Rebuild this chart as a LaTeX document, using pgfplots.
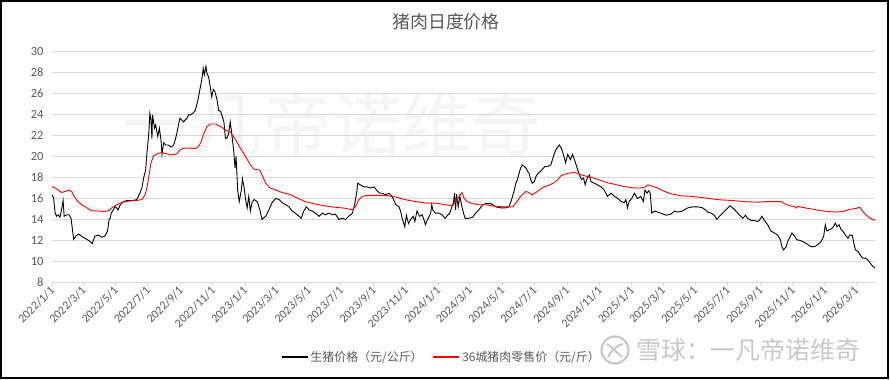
\documentclass[border=0pt]{standalone}
\usepackage{fontspec}
\setmainfont{Noto Sans CJK SC}
\newfontfamily\carlito{Carlito}
\usepackage{pgfplots}
\pgfplotsset{compat=1.18}
\definecolor{txtgray}{HTML}{595959}
\definecolor{gridgray}{HTML}{D9D9D9}
\definecolor{wm}{HTML}{F5F5F5}
\definecolor{wm2}{HTML}{C8C8C8}
\definecolor{pred}{HTML}{FF0000}
\begin{document}
\begin{tikzpicture}[x=1bp,y=1bp]
\useasboundingbox (0,0) rectangle (890,379);
\fill[white] (0,0) rectangle (890,379);
\node[text=wm, font=\fontsize{70}{70}\selectfont, inner sep=0] at (332,255) {一凡帝诺维奇};
\begin{axis}[
  at={(52bp,96.7bp)}, anchor=south west,
  scale only axis, width=823bp, height=230.6bp,
  xmin=0, xmax=1556, ymin=8, ymax=30,
  axis x line=bottom, axis y line=left,
  axis line style={-},
  x axis line style={draw=gridgray},
  y axis line style={draw=none},
  ytick={8,10,...,30},
  ymajorgrids, grid style={draw=gridgray, line width=0.8bp},
  tick align=outside,
  major tick length=4bp,
  xtick style={draw=gridgray, line width=0.8bp},
  ytick style={draw=none},
  xtick={0,59,120,181,243,304,365,424,485,546,608,669,730,790,851,912,974,1035,1096,1155,1216,1277,1339,1400,1461,1520},
  xticklabels={2022/1/1,2022/3/1,2022/5/1,2022/7/1,2022/9/1,2022/11/1,2023/1/1,2023/3/1,2023/5/1,2023/7/1,2023/9/1,2023/11/1,2024/1/1,2024/3/1,2024/5/1,2024/7/1,2024/9/1,2024/11/1,2025/1/1,2025/3/1,2025/5/1,2025/7/1,2025/9/1,2025/11/1,2026/1/1,2026/3/1},
  /pgf/number format/assume math mode=true,
  xticklabel style={font=\carlito\fontsize{12}{12}\selectfont, text=txtgray, rotate=45, anchor=east, xshift=2bp, yshift=-2bp},
  yticklabel style={font=\carlito\fontsize{12.5}{12.5}\selectfont, text=txtgray, xshift=-1bp},
  legend columns=2,
  legend style={at={(0.473,-0.324)}, anchor=center, draw=none, fill=none,
    font=\fontsize{12}{12}\selectfont, text=txtgray,
    /tikz/every even column/.append style={column sep=8bp}},
  legend image code/.code={\draw[#1, line width=1.6bp] (0bp,0bp) -- (26bp,0bp);},
]
\addplot[black, line width=0.9bp] coordinates {
(0,16.35)(3,16.03)(6,14.6)(9,14.3)(12,14.44)(15,14.2)(18,14.9)(21,15.8)(23,14.3)(28,14.44)
(32,14.44)(36,14.1)(38,13.3)(41,12.1)(45,12.4)(50,12.6)(56,12.4)(62,12.2)(69,12.0)(76,11.7)
(81,12.4)(88,12.5)(94,12.3)(100,12.4)(105,12.9)(108,14.0)(110,14.1)(112,14.6)(116,14.9)(119,15.2)
(122,15.1)(125,14.9)(129,15.4)(135,15.7)(141,15.8)(151,15.8)(160,15.87)(166,16.5)(170,17.0)(173,17.9)
(177,18.7)(180,20.6)(183,22.2)(185,24.1)(187,23.5)(189,21.7)(190,23.97)(194,22.7)(196,23.0)(200,21.9)
(203,22.7)(206,21.6)(208,20.2)(211,21.3)(215,21.1)(220,21.1)(225,20.9)(230,21.1)(233,21.6)(236,22.2)
(239,23.0)(242,23.65)(245,23.5)(249,23.3)(252,23.5)(255,23.65)(258,23.97)(261,23.97)(266,24.1)(271,24.4)
(276,25.4)(280,26.5)(283,27.3)(286,28.4)(288,27.8)(291,28.6)(293,27.9)(296,27.6)(299,26.7)(302,25.7)
(305,26.4)(308,26.2)(312,25.4)(315,24.4)(319,24.3)(322,23.8)(325,23.3)(328,21.7)(331,21.8)(334,22.2)
(337,23.3)(341,21.7)(344,20.3)(346,18.9)(348,20.0)(351,16.8)(354,15.7)(358,16.8)(360,17.9)(363,17.1)
(366,15.9)(369,15.1)(372,16.2)(375,14.8)(378,15.6)(382,15.9)(388,15.7)(393,14.9)(397,14.0)(404,14.3)
(410,14.9)(416,15.6)(423,16.0)(429,15.9)(435,15.6)(442,15.4)(448,15.2)(454,14.8)(460,14.6)(467,14.3)
(471,14.1)(476,14.8)(481,15.2)(486,14.9)(492,14.8)(498,14.6)(505,14.3)(511,14.6)(517,14.44)(524,14.6)
(530,14.44)(536,14.5)(542,14.0)(549,14.1)(555,14.0)(561,14.3)(568,14.6)(572,15.4)(576,16.5)(578,17.46)
(583,17.3)(590,17.1)(596,17.1)(602,17.0)(609,17.1)(615,16.7)(620,16.5)(624,16.5)(631,16.35)(637,16.5)
(643,16.2)(650,15.4)(656,15.2)(659,14.8)(662,14.1)(667,13.3)(670,14.4)(674,13.6)(678,14.0)(683,14.3)
(686,13.8)(690,14.8)(695,14.3)(700,14.44)(703,14.0)(706,13.5)(710,14.0)(713,14.3)(716,14.6)(718,15.4)
(720,14.9)(725,14.6)(732,14.6)(738,14.4)(743,14.1)(748,14.4)(752,14.6)(756,15.2)(759,15.6)(761,16.5)
(763,14.9)(765,16.4)(768,15.2)(771,16.2)(775,15.2)(778,14.6)(781,14.1)(787,14.1)(795,14.2)(801,14.6)
(807,14.9)(814,15.4)(820,15.5)(830,15.5)(839,15.2)(848,15.1)(858,15.1)(864,15.2)(869,15.9)(874,16.8)
(877,17.46)(880,17.8)(883,18.4)(886,18.9)(889,19.2)(893,19.05)(896,18.9)(899,18.6)(902,18.4)(905,17.8)
(908,17.46)(912,17.6)(915,18.1)(919,18.4)(924,18.6)(929,18.9)(932,19.05)(937,19.05)(943,19.2)(948,20.0)
(952,20.6)(959,21.1)(963,20.8)(968,20.0)(971,19.4)(975,20.2)(980,19.7)(984,20.2)(987,19.8)(992,19.05)
(997,18.25)(1001,17.8)(1005,17.94)(1008,17.3)(1012,17.94)(1016,18.25)(1019,17.6)(1025,17.46)(1031,17.3)(1038,17.1)
(1044,16.8)(1050,16.2)(1057,16.5)(1063,16.2)(1069,16.03)(1076,15.7)(1082,15.6)(1085,15.9)(1088,15.1)(1091,15.7)
(1096,16.0)(1101,16.5)(1107,16.0)(1113,16.2)(1118,15.7)(1121,16.8)(1125,16.5)(1128,16.75)(1131,16.5)(1134,14.6)
(1139,14.8)(1145,14.7)(1151,14.6)(1161,14.4)(1170,14.5)(1177,14.8)(1183,14.7)(1192,14.8)(1202,15.1)(1211,15.2)
(1221,15.2)(1230,15.1)(1236,14.9)(1240,14.7)(1246,14.6)(1252,14.4)(1257,14.0)(1262,14.3)(1268,14.6)(1274,14.9)
(1282,15.3)(1287,15.1)(1293,14.8)(1300,14.4)(1306,14.1)(1311,14.4)(1315,14.1)(1322,13.9)(1328,13.9)(1334,13.8)
(1337,13.9)(1342,14.3)(1347,13.9)(1353,13.5)(1359,12.9)(1366,12.7)(1372,12.5)(1377,12.06)(1380,11.4)(1383,11.1)
(1388,11.4)(1391,11.9)(1394,12.2)(1399,12.7)(1404,12.4)(1408,12.06)(1414,12.0)(1423,11.8)(1429,11.6)(1435,11.4)
(1442,11.4)(1448,11.6)(1454,11.9)(1459,12.4)(1462,13.5)(1465,12.9)(1470,13.0)(1476,13.2)(1481,13.65)(1484,13.3)
(1488,13.5)(1492,13.0)(1495,12.9)(1500,12.5)(1505,12.2)(1508,12.5)(1513,12.5)(1516,11.7)(1519,11.1)(1524,10.95)
(1528,10.6)(1533,10.3)(1538,10.3)(1542,10.16)(1547,9.84)(1552,9.5)(1556,9.37)
};
\addlegendentry{生猪价格（元/公斤）}
\addplot[pred, line width=0.9bp] coordinates {
(0,17.14)(6,17.0)(12,16.8)(18,16.57)(25,16.67)(32,16.8)(37,16.67)(42,16.2)(49,15.7)(56,15.4)
(66,15.1)(75,14.83)(88,14.8)(100,14.76)(107,14.85)(113,15.1)(119,15.3)(129,15.56)(138,15.7)(151,15.78)
(160,15.8)(170,15.9)(176,16.35)(180,17.14)(184,18.4)(187,19.37)(192,20.06)(201,20.3)(208,20.38)(217,20.25)
(226,20.16)(236,20.25)(242,20.63)(249,20.8)(258,20.8)(271,20.76)(277,20.95)(282,21.4)(286,22.06)(293,22.86)
(299,23.1)(309,23.1)(319,22.86)(328,22.54)(338,22.3)(347,21.6)(356,20.8)(366,20.0)(375,19.2)(382,18.8)
(393,18.7)(397,18.25)(404,17.46)(412,17.0)(423,16.8)(435,16.57)(451,16.35)(464,16.03)(479,15.7)(495,15.5)
(514,15.3)(533,15.17)(552,15.08)(568,14.92)(574,15.24)(580,15.87)(587,16.2)(596,16.3)(609,16.3)(631,16.29)
(650,16.13)(669,15.87)(688,15.7)(707,15.56)(726,15.56)(744,15.4)(757,15.3)(763,15.7)(770,16.2)(775,16.57)
(779,16.03)(785,15.7)(795,15.5)(808,15.4)(820,15.4)(839,15.24)(858,15.2)(871,15.2)(877,15.56)(886,16.2)
(896,16.67)(901,16.57)(908,16.35)(915,16.57)(924,16.9)(932,17.14)(937,17.2)(949,17.5)(956,17.78)(962,18.16)
(975,18.4)(987,18.48)(994,18.4)(1000,18.25)(1012,18.1)(1025,17.94)(1038,17.7)(1050,17.5)(1063,17.36)(1076,17.2)
(1088,17.08)(1101,17.0)(1113,17.0)(1121,17.08)(1127,17.3)(1136,17.14)(1145,17.0)(1158,16.67)(1170,16.45)(1189,16.25)
(1208,16.2)(1227,16.1)(1236,16.03)(1262,15.87)(1287,15.8)(1312,15.68)(1337,15.65)(1350,15.7)(1378,15.7)(1385,15.5)
(1394,15.3)(1404,15.24)(1407,15.08)(1410,15.24)(1426,15.08)(1445,14.92)(1464,14.76)(1483,14.7)(1495,14.76)(1508,14.95)
(1520,15.05)(1527,15.17)(1533,14.76)(1539,14.44)(1546,14.13)(1556,13.9)
};
\addlegendentry{36城猪肉零售价（元/斤）}
\end{axis}
\node[text=txtgray, font=\fontsize{18}{18}\selectfont, inner sep=0] at (446,357) {猪肉日度价格};
\draw[wm2, line width=2.2bp] (615,29) circle (13.5);
\draw[wm2, line width=2bp] (608,22) .. controls (612,30) and (618,34) .. (623,35);
\draw[wm2, line width=2bp] (607,35) .. controls (612,32) and (617,26) .. (622,22);
\node[text=wm2, font=\fontsize{25}{25}\selectfont, inner sep=0, anchor=west] at (636,29) {雪球：一凡帝诺维奇};
\draw[black, line width=1.8bp] (0.9,0.9) rectangle (888,378.1);
\end{tikzpicture}
\end{document}
